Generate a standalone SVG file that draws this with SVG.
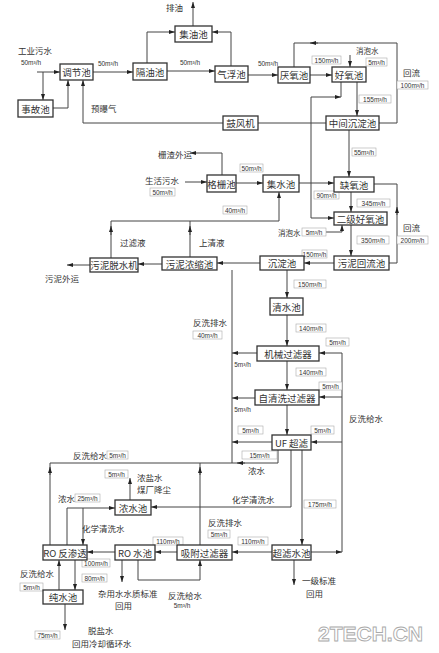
<svg xmlns="http://www.w3.org/2000/svg" width="439" height="653" viewBox="0 0 439 653">
<style>
.bx{fill:#fff;stroke:#333;stroke-width:1.3}
.bt{font-family:"Noto Sans CJK SC","Noto Sans",sans-serif;font-size:9.5px;fill:#333;text-anchor:middle;dominant-baseline:central}
.ln{fill:none;stroke:#444;stroke-width:1}
.lr{fill:#fff;stroke:#aaa;stroke-width:0.6}
.lt{font-family:"Liberation Sans","Noto Sans CJK SC",sans-serif;font-size:6.5px;fill:#333;text-anchor:middle;dominant-baseline:central}
.ct{font-family:"Noto Sans CJK SC","Noto Sans",sans-serif;font-size:8.5px;fill:#333;dominant-baseline:central}
.wm{font-family:"Liberation Sans",sans-serif;font-size:21px;font-weight:bold;fill:#fff;stroke:#aaa;stroke-width:0.9}
</style>
<defs>
<marker id="a" viewBox="0 0 6 4" refX="6" refY="2" markerWidth="6" markerHeight="4" orient="auto" markerUnits="userSpaceOnUse"><path d="M0,0L6,2L0,4z" fill="#222"/></marker>
</defs>
<rect width="439" height="653" fill="#fff"/>

<g id="connectors">
<path class="ln" d="M37,72H60" marker-end="url(#a)"/>
<path class="ln" d="M43,72V100" marker-end="url(#a)"/>
<path class="ln" d="M53,108H68V80" marker-end="url(#a)"/>
<path class="ln" d="M223,123H83V80" marker-end="url(#a)"/>
<path class="ln" d="M93,72H133" marker-end="url(#a)"/>
<path class="ln" d="M167,71H215" marker-end="url(#a)"/>
<path class="ln" d="M147,63V32H175" marker-end="url(#a)"/>
<path class="ln" d="M231,66V32H212" marker-end="url(#a)"/>
<path class="ln" d="M193,26V2" marker-end="url(#a)"/>
<path class="ln" d="M248,75H278" marker-end="url(#a)"/>
<path class="ln" d="M310,75H332" marker-end="url(#a)"/>
<path class="ln" d="M350,55V67" marker-end="url(#a)"/>
<path class="ln" d="M357,82V116" marker-end="url(#a)"/>
<path class="ln" d="M379,123H397V43H294V67"/>
<path class="ln" d="M318,43H310" marker-end="url(#a)"/>
<path class="ln" d="M258,123H326"/>
<path class="ln" d="M311,97V218H334" marker-end="url(#a)"/>
<path class="ln" d="M311,97H341" marker-end="url(#a)"/>
<path class="ln" d="M341,97V82"/>
<path class="ln" d="M349,130V177" marker-end="url(#a)"/>
<path class="ln" d="M299,183H334" marker-end="url(#a)"/>
<path class="ln" d="M351,192V212" marker-end="url(#a)"/>
<path class="ln" d="M351,225V256" marker-end="url(#a)"/>
<path class="ln" d="M389,263H397V184H374"/>
<path class="ln" d="M397,215V207" marker-end="url(#a)"/>
<path class="ln" d="M326,232H342V225" marker-end="url(#a)"/>
<path class="ln" d="M334,263H304" marker-end="url(#a)"/>
<path class="ln" d="M260,263H217" marker-end="url(#a)"/>
<path class="ln" d="M162,264H138" marker-end="url(#a)"/>
<path class="ln" d="M90,265H67" marker-end="url(#a)"/>
<path class="ln" d="M111,258V221H279V192" marker-end="url(#a)"/>
<path class="ln" d="M111,235V226" marker-end="url(#a)"/>
<path class="ln" d="M190,257V221"/>
<path class="ln" d="M190,235V226" marker-end="url(#a)"/>
<path class="ln" d="M287,270V298" marker-end="url(#a)"/>
<path class="ln" d="M236,183H263" marker-end="url(#a)"/>
<path class="ln" d="M185,182H207" marker-end="url(#a)"/>
<path class="ln" d="M222,175V153H190" marker-end="url(#a)"/>
<path class="ln" d="M287,315V346" marker-end="url(#a)"/>
<path class="ln" d="M287,361V390" marker-end="url(#a)"/>
<path class="ln" d="M287,405V435" marker-end="url(#a)"/>
<path class="ln" d="M311,552H342" marker-end="url(#a)"/>
<path class="ln" d="M342,552V353H319" marker-end="url(#a)"/>
<path class="ln" d="M342,397H319" marker-end="url(#a)"/>
<path class="ln" d="M342,442H311" marker-end="url(#a)"/>
<path class="ln" d="M232,463V270"/>
<path class="ln" d="M257,353H232" marker-end="url(#a)"/>
<path class="ln" d="M255,398H232" marker-end="url(#a)"/>
<path class="ln" d="M272,442H232" marker-end="url(#a)"/>
<path class="ln" d="M278,450V463H50V545"/>
<path class="ln" d="M245,463H237" marker-end="url(#a)"/>
<path class="ln" d="M200,545V463"/>
<path class="ln" d="M200,475V467" marker-end="url(#a)"/>
<path class="ln" d="M50,475V467" marker-end="url(#a)"/>
<path class="ln" d="M302,450V545" marker-end="url(#a)"/>
<path class="ln" d="M291,450V507H151" marker-end="url(#a)"/>
<path class="ln" d="M130,500V478" marker-end="url(#a)"/>
<path class="ln" d="M67,545V508H115" marker-end="url(#a)"/>
<path class="ln" d="M83,508V545" marker-end="url(#a)"/>
<path class="ln" d="M115,552H87" marker-end="url(#a)"/>
<path class="ln" d="M75,560V590" marker-end="url(#a)"/>
<path class="ln" d="M59,590V560" marker-end="url(#a)"/>
<path class="ln" d="M65,604V630" marker-end="url(#a)"/>
<path class="ln" d="M122,560V582" marker-end="url(#a)"/>
<path class="ln" d="M138,560V580H200V560" marker-end="url(#a)"/>
<path class="ln" d="M177,552H155" marker-end="url(#a)"/>
<path class="ln" d="M272,552H232" marker-end="url(#a)"/>
<path class="ln" d="M294,560V585" marker-end="url(#a)"/>
</g>

<g id="labels">
<text class="ct" x="18" y="50">工业污水</text>
<text class="lt" x="31" y="62">50m³/h</text>
<text class="lt" x="108" y="63">50m³/h</text>
<text class="lt" x="190" y="62">50m³/h</text>
<text class="lt" x="268" y="63">50m³/h</text>
<text class="ct" x="91" y="108">预曝气</text>
<text class="ct" x="166" y="7">排油</text>
<rect class="lr" x="312" y="56" width="29" height="8"/><text class="lt" x="326.5" y="60">150m³/h</text>
<text class="ct" x="356" y="50" style="font-size:7.5px">消泡水</text>
<rect class="lr" x="366" y="58" width="21" height="8"/><text class="lt" x="376.5" y="62">5m³/h</text>
<rect class="lr" x="359" y="95" width="32" height="8"/><text class="lt" x="375" y="99">155m³/h</text>
<text class="ct" x="403" y="72">回流</text>
<rect class="lr" x="397" y="81" width="31" height="8"/><text class="lt" x="412.5" y="85">100m³/h</text>
<rect class="lr" x="352" y="148" width="24" height="8"/><text class="lt" x="364" y="152">55m³/h</text>
<rect class="lr" x="314" y="191" width="25" height="8"/><text class="lt" x="326.5" y="195">90m³/h</text>
<rect class="lr" x="357" y="199" width="33" height="8"/><text class="lt" x="373.5" y="203">345m³/h</text>
<rect class="lr" x="357" y="236" width="32" height="8"/><text class="lt" x="373" y="240">350m³/h</text>
<text class="ct" x="403" y="227">回流</text>
<rect class="lr" x="397" y="236" width="31" height="8"/><text class="lt" x="412.5" y="240">200m³/h</text>
<text class="ct" x="278" y="232" style="font-size:7.5px">消泡水</text>
<rect class="lr" x="302" y="228" width="24" height="8"/><text class="lt" x="314" y="232">5m³/h</text>
<rect class="lr" x="302" y="250" width="25" height="8"/><text class="lt" x="314.5" y="254">150m³/h</text>
<rect class="lr" x="294" y="280" width="32" height="8"/><text class="lt" x="310" y="284">150m³/h</text>
<text class="ct" x="45" y="278">污泥外运</text>
<text class="ct" x="120" y="242">过滤液</text>
<text class="ct" x="199" y="242">上清液</text>
<rect class="lr" x="223" y="206" width="24" height="8"/><text class="lt" x="235" y="210">40m³/h</text>
<rect class="lr" x="240" y="164" width="23" height="8"/><text class="lt" x="251.5" y="168">50m³/h</text>
<text class="ct" x="145" y="180">生活污水</text>
<rect class="lr" x="150" y="188" width="25" height="8"/><text class="lt" x="162.5" y="192">50m³/h</text>
<text class="ct" x="158" y="154">栅渣外运</text>
<rect class="lr" x="296" y="324" width="30" height="8"/><text class="lt" x="311" y="328">140m³/h</text>
<rect class="lr" x="296" y="368" width="30" height="8"/><text class="lt" x="311" y="372">140m³/h</text>
<rect class="lr" x="326" y="338" width="23" height="8"/><text class="lt" x="337.5" y="342">5m³/h</text>
<rect class="lr" x="319" y="382" width="23" height="8"/><text class="lt" x="330.5" y="386">5m³/h</text>
<rect class="lr" x="311" y="426" width="23" height="8"/><text class="lt" x="322.5" y="430">5m³/h</text>
<text class="ct" x="349" y="418">反洗给水</text>
<text class="ct" x="193" y="322">反洗排水</text>
<rect class="lr" x="193" y="331" width="29" height="8"/><text class="lt" x="207.5" y="335">40m³/h</text>
<text class="lt" x="242.5" y="364">5m³/h</text>
<text class="lt" x="242.5" y="409">5m³/h</text>
<rect class="lr" x="238" y="426" width="25" height="8"/><text class="lt" x="250.5" y="430">5m³/h</text>
<rect class="lr" x="242" y="451" width="35" height="8"/><text class="lt" x="259.5" y="455">15m³/h</text>
<text class="ct" x="248" y="470">浓水</text>
<text class="ct" x="73" y="455">反洗给水</text>
<rect class="lr" x="107" y="451" width="21" height="8"/><text class="lt" x="117.5" y="455">5m³/h</text>
<rect class="lr" x="105" y="470" width="23" height="8"/><text class="lt" x="116.5" y="474">5m³/h</text>
<text class="ct" x="137" y="477">浓盐水</text>
<text class="ct" x="137" y="489">煤厂降尘</text>
<text class="ct" x="232" y="499">化学清洗水</text>
<rect class="lr" x="304" y="500" width="32" height="8"/><text class="lt" x="320" y="504">175m³/h</text>
<text class="ct" x="58" y="498">浓水</text>
<rect class="lr" x="75" y="494" width="25" height="8"/><text class="lt" x="87.5" y="498">25m³/h</text>
<text class="ct" x="82" y="528">化学清洗水</text>
<text class="ct" x="208" y="522">反洗排水</text>
<rect class="lr" x="208" y="530" width="22" height="8"/><text class="lt" x="219" y="534">5m³/h</text>
<rect class="lr" x="153" y="537" width="30" height="8"/><text class="lt" x="168" y="541">110m³/h</text>
<rect class="lr" x="238" y="537" width="30" height="8"/><text class="lt" x="253" y="541">110m³/h</text>
<rect class="lr" x="82" y="559" width="28" height="8"/><text class="lt" x="96" y="563">100m³/h</text>
<rect class="lr" x="82" y="574" width="25" height="8"/><text class="lt" x="94.5" y="578">80m³/h</text>
<text class="ct" x="20" y="573">反洗给水</text>
<rect class="lr" x="20" y="583" width="23" height="8"/><text class="lt" x="31.5" y="587">5m³/h</text>
<rect class="lr" x="35" y="631" width="25" height="8"/><text class="lt" x="47.5" y="635">75m³/h</text>
<text class="ct" x="88" y="630">脱盐水</text>
<text class="ct" x="72" y="643">回用冷却循环水</text>
<text class="ct" x="98" y="593">杂用水水质标准</text>
<text class="ct" x="115" y="605">回用</text>
<text class="ct" x="168" y="595">反洗给水</text>
<text class="lt" x="182" y="605">5m³/h</text>
<text class="ct" x="302" y="580">一级标准</text>
<text class="ct" x="306" y="593">回用</text>
<text class="wm" x="318" y="641">2TECH.CN</text>
</g>

<g id="n-tiaojie"><rect class="bx" x="60" y="64" width="33" height="16"/><text class="bt" x="76.5" y="72">调节池</text></g>
<g id="n-shigu"><rect class="bx" x="18" y="100" width="35" height="17"/><text class="bt" x="35.5" y="108.5">事故池</text></g>
<g id="n-geyou"><rect class="bx" x="133" y="63" width="34" height="17"/><text class="bt" x="150" y="71.5">隔油池</text></g>
<g id="n-jiyou"><rect class="bx" x="175" y="26" width="37" height="16"/><text class="bt" x="193.5" y="34">集油池</text></g>
<g id="n-qifu"><rect class="bx" x="215" y="66" width="33" height="16"/><text class="bt" x="231.5" y="74">气浮池</text></g>
<g id="n-yanyang"><rect class="bx" x="278" y="67" width="32" height="16"/><text class="bt" x="294" y="75">厌氧池</text></g>
<g id="n-haoyang"><rect class="bx" x="332" y="67" width="34" height="15"/><text class="bt" x="349" y="74.5">好氧池</text></g>
<g id="n-zhongjian"><rect class="bx" x="326" y="116" width="53" height="14"/><text class="bt" x="352.5" y="123">中间沉淀池</text></g>
<g id="n-gufeng"><rect class="bx" x="223" y="116" width="35" height="14"/><text class="bt" x="240.5" y="123">鼓风机</text></g>
<g id="n-gezha"><rect class="bx" x="207" y="175" width="29" height="17"/><text class="bt" x="221.5" y="183.5">格栅池</text></g>
<g id="n-jishui"><rect class="bx" x="263" y="175" width="36" height="17"/><text class="bt" x="281" y="183.5">集水池</text></g>
<g id="n-queyang"><rect class="bx" x="334" y="177" width="40" height="15"/><text class="bt" x="354" y="184.5">缺氧池</text></g>
<g id="n-erji"><rect class="bx" x="334" y="212" width="53" height="13"/><text class="bt" x="360.5" y="218.5">二级好氧池</text></g>
<g id="n-huiliu"><rect class="bx" x="334" y="256" width="55" height="14"/><text class="bt" x="361.5" y="263">污泥回流池</text></g>
<g id="n-chendian"><rect class="bx" x="260" y="256" width="44" height="14"/><text class="bt" x="282" y="263">沉淀池</text></g>
<g id="n-nongsuo"><rect class="bx" x="162" y="257" width="55" height="13"/><text class="bt" x="189.5" y="263.5">污泥浓缩池</text></g>
<g id="n-tuoshui"><rect class="bx" x="90" y="258" width="48" height="14"/><text class="bt" x="114" y="265">污泥脱水机</text></g>
<g id="n-qingshui"><rect class="bx" x="270" y="298" width="33" height="17"/><text class="bt" x="286.5" y="306.5">清水池</text></g>
<g id="n-jixie"><rect class="bx" x="257" y="346" width="62" height="15"/><text class="bt" x="288" y="353.5">机械过滤器</text></g>
<g id="n-ziqing"><rect class="bx" x="255" y="390" width="64" height="15"/><text class="bt" x="287" y="397.5">自清洗过滤器</text></g>
<g id="n-uf"><rect class="bx" x="272" y="435" width="39" height="15"/><text class="bt" x="291.5" y="442.5">UF 超滤</text></g>
<g id="n-nongshui"><rect class="bx" x="115" y="500" width="36" height="15"/><text class="bt" x="133" y="507.5">浓水池</text></g>
<g id="n-ro"><rect class="bx" x="43" y="545" width="44" height="15"/><text class="bt" x="65" y="552.5">RO 反渗透</text></g>
<g id="n-roshui"><rect class="bx" x="115" y="545" width="40" height="15"/><text class="bt" x="135" y="552.5">RO 水池</text></g>
<g id="n-xifu"><rect class="bx" x="177" y="545" width="55" height="15"/><text class="bt" x="204.5" y="552.5">吸附过滤器</text></g>
<g id="n-chaolv"><rect class="bx" x="272" y="545" width="39" height="15"/><text class="bt" x="291.5" y="552.5">超滤水池</text></g>
<g id="n-chunshui"><rect class="bx" x="43" y="590" width="40" height="14"/><text class="bt" x="63" y="597">纯水池</text></g>
</svg>
